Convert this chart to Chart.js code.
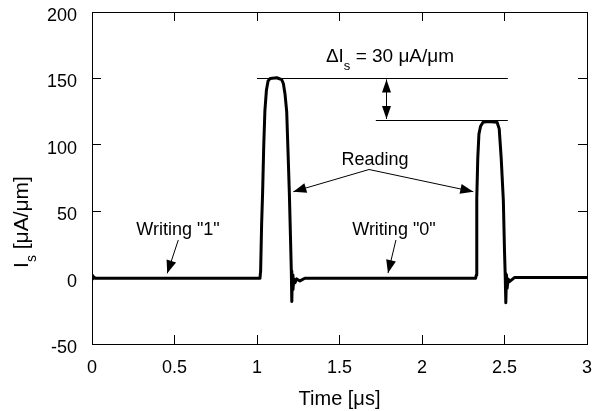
<!DOCTYPE html>
<html>
<head>
<meta charset="utf-8">
<script src="https://cdn.jsdelivr.net/npm/chart.js@4.4.0/dist/chart.umd.min.js"></script>
<style>
  html, body { margin: 0; padding: 0; background: #fff; }
  #wrap { width: 594px; height: 411px; }
</style>
</head>
<body>
<div id="wrap"><canvas id="pulseChart" width="594" height="411"></canvas></div>
<script>
'use strict';

// time, µs
const timeUs = [
    0, 0.004, 0.01, 0.02, 0.5, 1.0, 1.018,
    1.022, 1.028, 1.034, 1.041, 1.048, 1.057, 1.067, 1.08, 1.12, 1.15, 1.16, 1.17, 1.18,
    1.188, 1.196, 1.203, 1.208, 1.211, 1.214, 1.218, 1.223, 1.23, 1.24, 1.26, 1.29,
    1.8, 2.325,
    2.329, 2.331, 2.333, 2.338, 2.345, 2.355, 2.37, 2.4, 2.455, 2.468, 2.48, 2.493,
    2.5, 2.504, 2.508, 2.512, 2.516, 2.522, 2.53, 2.545, 2.56, 3.0
];

// sense current Is, µA/µm
const currentUA = [
    1.5, -1, 0.5, -0.5, -0.5, -0.5, -0.5,
    5, 40, 64, 100, 126, 141, 148, 150, 150.5, 149, 146, 138, 125,
    95, 64, 30, 5, -18, 2, -9, -1, -4, -1, -2.5, -0.5,
    -0.5, -0.5,
    2, 30, 60, 90, 108, 114, 117, 117.5, 117, 112, 90, 58,
    20, 3, -19, 2, -8, -1, -3, -1.5, 0, 0
];

const xTickValues = [0, 0.5, 1, 1.5, 2, 2.5, 3];
const yTickValues = [-50, 0, 50, 100, 150, 200];

// read levels for "1" and "0"
const level1 = 150;
const level0 = 118.7;

const FONT = "'Liberation Sans', Arial, sans-serif";


function arrowHead(ctx, x1, y1, x2, y2, len, half) {
    const a = Math.atan2(y2 - y1, x2 - x1);
    const c = Math.cos(a), s = Math.sin(a);
    ctx.beginPath();
    ctx.moveTo(x2, y2);
    ctx.lineTo(x2 - len * c + half * s, y2 - len * s - half * c);
    ctx.lineTo(x2 - len * c - half * s, y2 - len * s + half * c);
    ctx.closePath();
    ctx.fill();
}

function arrow(ctx, x1, y1, x2, y2) {
    ctx.beginPath();
    ctx.moveTo(x1, y1);
    ctx.lineTo(x2, y2);
    ctx.stroke();
    arrowHead(ctx, x1, y1, x2, y2, 13, 5);
}

// text with a subscript part: [main, sub, rest]
function subText(ctx, parts, cx, cy, size, subSize, subDrop) {
    ctx.font = `${size}px ${FONT}`;
    const w0 = ctx.measureText(parts[0]).width;
    const w2 = ctx.measureText(parts[2]).width;
    ctx.font = `${subSize}px ${FONT}`;
    const w1 = ctx.measureText(parts[1]).width;
    let x = cx - (w0 + w1 + w2) / 2;
    ctx.textAlign = 'left';
    ctx.textBaseline = 'alphabetic';
    const base = cy + size * 0.36;
    ctx.font = `${size}px ${FONT}`;
    ctx.fillText(parts[0], x, base);
    x += w0;
    ctx.font = `${subSize}px ${FONT}`;
    ctx.fillText(parts[1], x, base + subDrop);
    x += w1;
    ctx.font = `${size}px ${FONT}`;
    ctx.fillText(parts[2], x, base);
}


const annotations = {
    id: 'annotations',
    afterDatasetsDraw(chart) {
        const { ctx } = chart;
        const sx = chart.scales.x, sy = chart.scales.y;
        const px = v => sx.getPixelForValue(v);
        const py = v => sy.getPixelForValue(v);

        ctx.save();
        ctx.strokeStyle = '#000';
        ctx.fillStyle = '#000';
        ctx.lineWidth = 1;

        // level lines
        ctx.beginPath();
        ctx.moveTo(px(1.0), Math.round(py(level1)) + 0.5);
        ctx.lineTo(px(2.52), Math.round(py(level1)) + 0.5);
        ctx.moveTo(px(1.72), Math.round(py(level0)) + 0.5);
        ctx.lineTo(px(2.52), Math.round(py(level0)) + 0.5);
        ctx.stroke();

        // double arrow between the levels
        const ax = Math.round(px(1.78)) + 0.5;
        const yTop = py(level1) + 1, yBot = py(level0) - 1;
        ctx.beginPath();
        ctx.moveTo(ax, yTop);
        ctx.lineTo(ax, yBot);
        ctx.stroke();
        arrowHead(ctx, ax, (yTop + yBot) / 2, ax, yTop, 13, 4.5);
        arrowHead(ctx, ax, (yTop + yBot) / 2, ax, yBot, 13, 4.5);

        // Reading arrows
        const apx = px(1.679), apy = py(81.4);
        arrow(ctx, apx, apy, px(1.22), py(64.7));
        arrow(ctx, apx, apy, px(2.311), py(64.7));

        // Writing arrows
        arrow(ctx, px(0.523), py(28.3), px(0.456), py(3.2));
        arrow(ctx, px(1.842), py(28.3), px(1.794), py(3.4));

        // labels
        ctx.font = `18px ${FONT}`;
        ctx.textAlign = 'center';
        ctx.textBaseline = 'middle';
        ctx.fillText('Reading', px(1.715), py(88.5));
        ctx.fillText('Writing "1"', px(0.521), py(35.8));
        ctx.fillText('Writing "0"', px(1.83), py(35.8));

        subText(ctx, ['\u0394I', 's', ' = 30 \u03bcA/\u03bcm'], px(1.806), py(167.7), 19, 13, 8);

        // y axis title, rotated
        ctx.translate(20, 222);
        ctx.rotate(-Math.PI / 2);
        subText(ctx, ['I', 's', ' [\u03bcA/\u03bcm]'], 0, 0, 21, 14, 8);

        ctx.restore();
    }
};


const points = timeUs.map((t, i) => ({ x: t, y: currentUA[i] }));

const frameGrid = {
    drawOnChartArea: false,
    drawTicks: true,
    tickLength: -9,
    color: '#000',
    lineWidth: 1
};
const frameBorder = { color: '#000', width: 1 };

// fixed box sizes, no extra room for overhanging labels
function fitBox(w, h) {
    return scale => {
        if (w !== null) scale.width = w;
        if (h !== null) scale.height = h;
        scale.paddingLeft = 0;
        scale.paddingRight = 0;
        scale.paddingTop = 0;
        scale.paddingBottom = 0;
    };
}

new Chart(document.getElementById('pulseChart').getContext('2d'), {
    type: 'line',
    data: {
        datasets: [{
            data: points,
            borderColor: '#000',
            borderWidth: 3,
            borderJoinStyle: 'round',
            borderCapStyle: 'round',
            pointRadius: 0,
            tension: 0,
            fill: false
        }]
    },
    options: {
        responsive: false,
        animation: false,
        layout: { padding: { top: 12, right: 7, left: 0, bottom: 0 } },
        plugins: {
            legend: { display: false },
            title: { display: false },
            tooltip: { enabled: false }
        },
        scales: {
            x: {
                type: 'linear',
                position: 'bottom',
                min: 0,
                max: 3,
                afterBuildTicks: scale => { scale.ticks = xTickValues.map(v => ({ value: v })); },
                afterFit: fitBox(null, 67),
                ticks: {
                    color: '#000',
                    font: { family: FONT, size: 18 },
                    padding: 22,
                    maxRotation: 0,
                    callback: v => String(v)
                },
                grid: frameGrid,
                border: frameBorder,
                title: {
                    display: true,
                    text: 'Time [\u03bcs]',
                    color: '#000',
                    font: { family: FONT, size: 20 },
                    padding: { top: 0, bottom: 0 }
                }
            },
            xTop: {
                type: 'linear',
                position: 'top',
                min: 0,
                max: 3,
                afterBuildTicks: scale => { scale.ticks = xTickValues.map(v => ({ value: v })); },
                afterFit: fitBox(null, 0),
                ticks: { display: false },
                grid: frameGrid,
                border: frameBorder
            },
            y: {
                type: 'linear',
                position: 'left',
                min: -50,
                max: 200,
                afterBuildTicks: scale => { scale.ticks = yTickValues.map(v => ({ value: v })); },
                afterFit: fitBox(92, null),
                ticks: { color: '#000', font: { family: FONT, size: 18 }, padding: 24, labelOffset: 4 },
                grid: frameGrid,
                border: frameBorder
            },
            yRight: {
                type: 'linear',
                position: 'right',
                min: -50,
                max: 200,
                afterBuildTicks: scale => { scale.ticks = yTickValues.map(v => ({ value: v })); },
                afterFit: fitBox(0, null),
                ticks: { display: false },
                grid: frameGrid,
                border: frameBorder
            }
        }
    },
    plugins: [annotations]
});
</script>
</body>
</html>
